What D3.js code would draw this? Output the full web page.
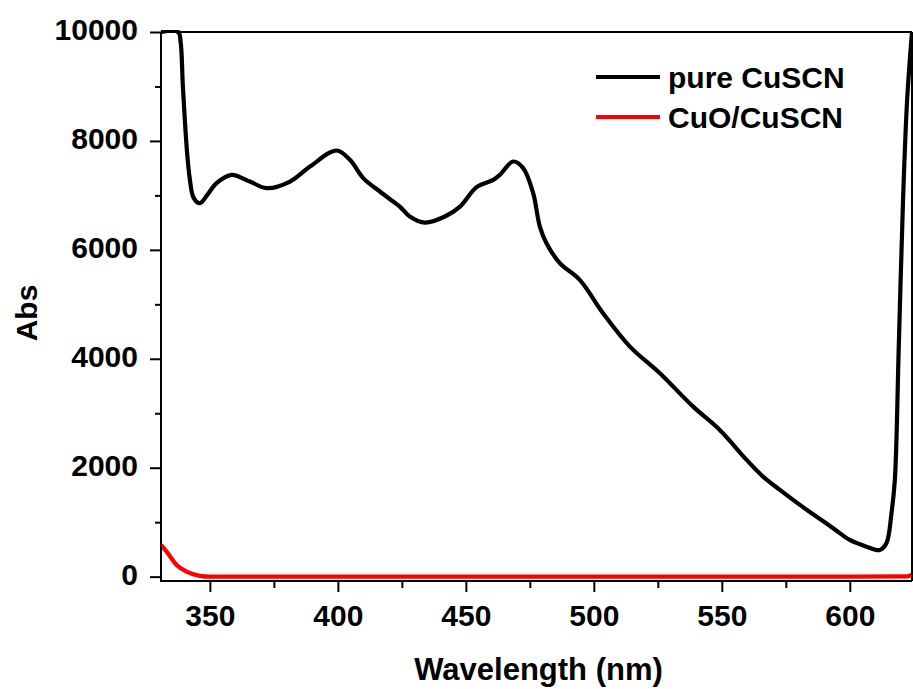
<!DOCTYPE html>
<html>
<head>
<meta charset="utf-8">
<script src="https://cdn.jsdelivr.net/npm/d3@7"></script>
<style>
  html, body { margin: 0; padding: 0; background: #fff; }
  svg { display: block; }
  text { font-family: "Liberation Sans", Arial, sans-serif; font-weight: bold; fill: #000; }
</style>
</head>
<body>
<svg id="chart" width="913" height="689"></svg>
<script>
// ---- data (wavelength nm, absorbance) ----
const pureWavelength = [330.9, 337.6, 338.6, 339.45, 341.1, 342.2, 343.6, 346.1, 349.0, 352.6, 358.5, 365.6, 372.2, 381.3, 389.1, 399.5, 404.7, 409.9, 416.4, 421.6, 424.2, 428.1, 434.0, 441.8, 447.7, 454.2, 460.7, 463.3, 468.5, 472.4, 476.3, 478.9, 481.5, 486.7, 494.5, 503.6, 514.1, 525.8, 538.8, 549.2, 559.7, 566.1, 572.7, 580.5, 593.5, 600.0, 606.5, 611.7, 614.3, 616.3, 617.6, 619.1, 620.8, 622.4, 624.3];
const pureAbs = [10000, 10000, 9800, 9000, 7780, 7285, 6960, 6858, 7010, 7225, 7378, 7254, 7133, 7254, 7530, 7824, 7653, 7317, 7071, 6887, 6795, 6612, 6501, 6612, 6795, 7152, 7286, 7377, 7622, 7500, 7041, 6428, 6123, 5756, 5449, 4837, 4224, 3735, 3122, 2694, 2143, 1837, 1592, 1317, 889, 674, 551, 490, 613, 1170, 1776, 4165, 6918, 8755, 10000];

const cuoWavelength = [330.9, 333.1, 337.0, 340.9, 346.1, 350.0, 400, 450, 500, 550, 600, 622.5, 623.5, 624.3];
const cuoAbs = [582, 459, 215, 92, 15, 0, 0, 0, 0, 0, 0, 5, 20, 40];

const xTicks = [350, 400, 450, 500, 550, 600];
const xMinorTicks = [375, 425, 475, 525, 575];
const yTicks = [0, 2000, 4000, 6000, 8000, 10000];
const yMinorTicks = [1000, 3000, 5000, 7000, 9000];
const seriesNames = ["pure CuSCN", "CuO/CuSCN"];
const seriesColors = ["#000000", "#ff0000"];

// ---- layout ----
const svg = d3.select("#chart");
const L = 161, R = 912, T = 32, B = 581;
const x = d3.scaleLinear().domain([330.9, 624.3]).range([L, R]);
const y = d3.scaleLinear().domain([-80, 10000]).range([B, T]);

svg.append("defs").append("clipPath").attr("id", "clip")
  .append("rect").attr("x", L).attr("y", T - 2).attr("width", R - L).attr("height", B - T + 2);

const line = d3.line().x(d => x(d[0])).y(d => y(d[1])).curve(d3.curveCatmullRom.alpha(0.5));
const lineMono = d3.line().x(d => x(d[0])).y(d => y(d[1])).curve(d3.curveMonotoneX);

const g = svg.append("g").attr("clip-path", "url(#clip)");
g.append("path").datum(cuoWavelength.map((w, i) => [w, cuoAbs[i]]))
  .attr("d", lineMono).attr("fill", "none").attr("stroke", seriesColors[1]).attr("stroke-width", 4.2)
  .attr("stroke-linejoin", "round");
g.append("path").datum(pureWavelength.map((w, i) => [w, pureAbs[i]]))
  .attr("d", line).attr("fill", "none").attr("stroke", seriesColors[0]).attr("stroke-width", 4.2)
  .attr("stroke-linejoin", "round");

// frame top/right
svg.append("line").attr("x1", L).attr("x2", R).attr("y1", T).attr("y2", T).attr("stroke", "#000").attr("stroke-width", 2);
svg.append("line").attr("x1", R).attr("x2", R).attr("y1", T).attr("y2", B).attr("stroke", "#000").attr("stroke-width", 2);

function styleAxis(sel) {
  sel.select(".domain").attr("stroke", "#000").attr("stroke-width", 2);
  sel.selectAll(".tick line").attr("stroke", "#000").attr("stroke-width", 2);
  sel.selectAll(".tick text").attr("font-size", 30).attr("font-family", "Liberation Sans, Arial, sans-serif").attr("font-weight", "bold").attr("fill", "#000");
}

// x axis
const xAxisG = svg.append("g").attr("transform", `translate(0,${B})`)
  .call(d3.axisBottom(x).tickValues(xTicks).tickSize(11).tickPadding(13).tickSizeOuter(0));
styleAxis(xAxisG);
const xMinorG = svg.append("g").attr("transform", `translate(0,${B})`)
  .call(d3.axisBottom(x).tickValues(xMinorTicks).tickSize(7).tickFormat("").tickSizeOuter(0));
styleAxis(xMinorG);

// y axis
const yAxisG = svg.append("g").attr("transform", `translate(${L},0)`)
  .call(d3.axisLeft(y).tickValues(yTicks).tickSize(11).tickPadding(12).tickSizeOuter(0).tickFormat(d3.format("d")));
styleAxis(yAxisG);
yAxisG.selectAll(".tick text").attr("dy", "0.26em");
const yMinorG = svg.append("g").attr("transform", `translate(${L},0)`)
  .call(d3.axisLeft(y).tickValues(yMinorTicks).tickSize(6).tickFormat("").tickSizeOuter(0));
styleAxis(yMinorG);
yAxisG.select(".domain").remove();
yMinorG.select(".domain").remove();
xMinorG.select(".domain").remove();
xAxisG.select(".domain").remove();
svg.append("line").attr("x1", L).attr("x2", L).attr("y1", T).attr("y2", B + 1).attr("stroke", "#000").attr("stroke-width", 2);
svg.append("line").attr("x1", L - 1).attr("x2", R).attr("y1", B).attr("y2", B).attr("stroke", "#000").attr("stroke-width", 2);

// axis titles
svg.append("text").attr("x", (L + R) / 2 + 2).attr("y", 680).attr("text-anchor", "middle")
  .attr("font-size", 31).text("Wavelength (nm)");
svg.append("text").attr("transform", "translate(37,313) rotate(-90)").attr("text-anchor", "middle")
  .attr("font-size", 30).text("Abs");

// legend
const legY = [77, 117];
seriesNames.forEach((name, i) => {
  svg.append("line").attr("x1", 596).attr("x2", 660).attr("y1", legY[i]).attr("y2", legY[i])
    .attr("stroke", seriesColors[i]).attr("stroke-width", 4.2);
  svg.append("text").attr("x", 668).attr("y", legY[i]).attr("dy", "0.35em")
    .attr("font-size", 30).text(name);
});
</script>
</body>
</html>
